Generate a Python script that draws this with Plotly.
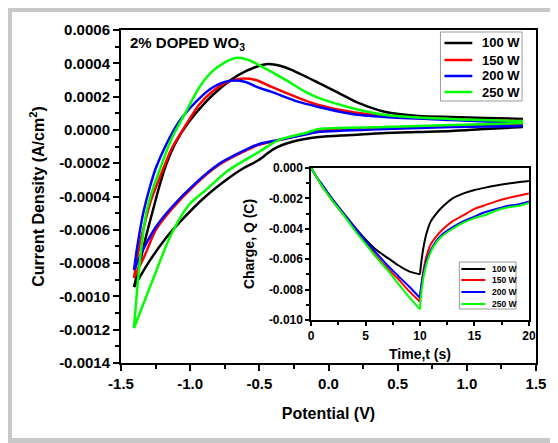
import plotly.graph_objects as go

powers = ['100 W', '150 W', '200 W', '250 W']
colors = ['#000000', '#ff0000', '#0000ff', '#00ff00']

# cyclic voltammetry, forward sweep (from -1.4 V vertex to +1.4 V)
v_up_100 = [-1.406, -1.356, -1.313, -1.262, -1.219, -1.175, -1.103, -1.010, -0.887, -0.772, -0.649, -0.526, -0.433, -0.35, -0.267, -0.072, 0.072, 0.216, 0.411, 0.649, 0.887, 1.132, 1.406]
j_up_100 = [-0.000944, -0.00077, -0.00062, -0.00046, -0.000328, -0.000211, -0.000073, 0.000047, 0.000168, 0.000258, 0.00033, 0.000378, 0.000396, 0.000385, 0.00036, 0.000282, 0.000222, 0.000162, 0.000108, 0.000084, 0.000078, 0.000072, 0.000066]
v_up_150 = [-1.406, -1.377, -1.334, -1.284, -1.204, -1.132, -1.031, -0.937, -0.844, -0.743, -0.649, -0.526, -0.411, -0.216, -0.072, 0.166, 0.411, 0.649, 1.01, 1.406]
j_up_150 = [-0.000889, -0.00074, -0.00058, -0.000425, -0.000253, -0.000109, 0.00003, 0.00015, 0.000228, 0.000282, 0.000306, 0.0003, 0.000258, 0.000192, 0.00015, 0.000108, 0.000084, 0.000072, 0.00006, 0.000053]
v_up_200 = [-1.406, -1.385, -1.36, -1.334, -1.29, -1.248, -1.175, -1.082, -0.959, -0.844, -0.721, -0.599, -0.519, -0.411, -0.216, -0.072, 0.166, 0.411, 0.887, 1.406]
j_up_200 = [-0.000841, -0.000715, -0.00059, -0.00048, -0.00034, -0.000229, -0.000091, 0.000047, 0.000168, 0.000252, 0.000294, 0.000288, 0.000258, 0.000228, 0.000168, 0.000138, 0.000096, 0.000078, 0.00006, 0.000041]
v_up_250 = [-1.406, -1.377, -1.349, -1.313, -1.27, -1.226, -1.132, -1.031, -0.937, -0.844, -0.743, -0.671, -0.577, -0.505, -0.310, -0.166, -0.072, 0.166, 0.411, 0.887, 1.406]
j_up_250 = [-0.00119, -0.000901, -0.00068, -0.00048, -0.000355, -0.000253, -0.000049, 0.000108, 0.000252, 0.000348, 0.000408, 0.000432, 0.00042, 0.00039, 0.0003, 0.000228, 0.000192, 0.000132, 0.00009, 0.000066, 0.000053]

# reverse sweep (from +1.4 V back to the vertex)
v_dn_100 = [1.406, 1.132, 0.887, 0.649, 0.411, 0.166, -0.072, -0.267, -0.397, -0.505, -0.613, -0.721, -0.901, -1.060, -1.175, -1.298, -1.406]
j_dn_100 = [0.000017, 0.000005, -0.000007, -0.000013, -0.000019, -0.000031, -0.000043, -0.000073, -0.000115, -0.000181, -0.000229, -0.000289, -0.000409, -0.000541, -0.000649, -0.000793, -0.000944]
v_dn_150 = [1.406, 0.887, 0.411, -0.072, -0.166, -0.361, -0.505, -0.649, -0.793, -0.959, -1.132, -1.248, -1.327, -1.406]
j_dn_150 = [0.000035, 0.000023, 0.000011, -0.000007, -0.000025, -0.000062, -0.00009, -0.000145, -0.000211, -0.000325, -0.000475, -0.000601, -0.000751, -0.000889]
v_dn_200 = [1.406, 0.887, 0.411, -0.072, -0.166, -0.361, -0.505, -0.649, -0.793, -0.959, -1.132, -1.248, -1.334, -1.406]
j_dn_200 = [0.000023, 0.000017, 0.000005, -0.000013, -0.000027, -0.00006, -0.000086, -0.00014, -0.000205, -0.000318, -0.000463, -0.000583, -0.000709, -0.000841]
v_dn_250 = [1.406, 0.887, 0.411, -0.072, -0.166, -0.361, -0.505, -0.721, -0.887, -1.010, -1.139, -1.276, -1.406]
j_dn_250 = [0.000041, 0.000029, 0.000017, 0.000005, -0.000019, -0.000061, -0.000133, -0.000241, -0.000361, -0.000451, -0.000631, -0.000913, -0.00119]

# chronocoulometry inset: charging (0-10 s) and recovery (10-20 s)
t_chg = [0, 0.5, 1, 1.5, 2, 3, 4, 5, 6, 7, 8, 9, 10]
q_chg_100 = [0, -0.0006, -0.0011, -0.0016, -0.0021, -0.0030, -0.0039, -0.0047, -0.0054, -0.0059, -0.0064, -0.0068, -0.0070]
q_chg_150 = [0, -0.0006, -0.0012, -0.0017, -0.0022, -0.0031, -0.0040, -0.0049, -0.0058, -0.0066, -0.0073, -0.0081, -0.0088]
q_chg_200 = [0, -0.0006, -0.0011, -0.0016, -0.0021, -0.0030, -0.0039, -0.0048, -0.0056, -0.0064, -0.0071, -0.0078, -0.00855]
q_chg_250 = [0, -0.0006, -0.0012, -0.0017, -0.0022, -0.0031, -0.0041, -0.0050, -0.0059, -0.0067, -0.0076, -0.0085, -0.0093]
t_rec = [10, 10.05, 10.3, 10.6, 11, 11.5, 12, 13, 14, 15, 16, 17, 18, 19, 20]
q_rec_100 = [-0.0070, -0.0066, -0.0053, -0.0043, -0.0035, -0.0030, -0.0026, -0.0020, -0.00168, -0.00146, -0.0013, -0.00116, -0.00104, -0.00094, -0.00086]
q_rec_150 = [-0.0088, -0.0082, -0.0068, -0.0058, -0.0050, -0.0045, -0.0041, -0.0035, -0.0031, -0.0027, -0.00245, -0.0022, -0.0020, -0.00183, -0.00168]
q_rec_200 = [-0.00855, -0.0081, -0.0070, -0.0061, -0.0054, -0.0048, -0.0044, -0.0039, -0.0035, -0.0032, -0.0029, -0.0027, -0.0025, -0.0024, -0.0022]
q_rec_250 = [-0.0093, -0.0087, -0.0073, -0.0063, -0.0055, -0.0049, -0.0045, -0.0040, -0.0036, -0.0033, -0.0031, -0.0028, -0.0026, -0.0025, -0.0023]

main_xticks = [-1.5, -1.0, -0.5, 0.0, 0.5, 1.0, 1.5]
main_yticks = [0.0006, 0.0004, 0.0002, 0.0, -0.0002, -0.0004, -0.0006, -0.0008, -0.0010, -0.0012, -0.0014]
inset_xticks = [0, 5, 10, 15, 20]
inset_yticks = [0.0, -0.002, -0.004, -0.006, -0.008, -0.010]

cv_up = [(v_up_100, j_up_100), (v_up_150, j_up_150), (v_up_200, j_up_200), (v_up_250, j_up_250)]
cv_dn = [(v_dn_100, j_dn_100), (v_dn_150, j_dn_150), (v_dn_200, j_dn_200), (v_dn_250, j_dn_250)]
q_chg = [q_chg_100, q_chg_150, q_chg_200, q_chg_250]
q_rec = [q_rec_100, q_rec_150, q_rec_200, q_rec_250]

FONT = 'Arial, Liberation Sans, sans-serif'
fig = go.Figure()

for i, name in enumerate(powers):
    line = dict(color=colors[i], width=2.5, shape='spline', smoothing=0.8)
    fig.add_trace(go.Scatter(x=cv_up[i][0], y=cv_up[i][1], mode='lines', line=line, name=name))
    fig.add_trace(go.Scatter(x=cv_dn[i][0], y=cv_dn[i][1], mode='lines', line=line, name=name))

for i, name in enumerate(powers):
    line = dict(color=colors[i], width=2, shape='spline', smoothing=0.6)
    fig.add_trace(go.Scatter(x=t_chg, y=q_chg[i], mode='lines', line=line, name=name, xaxis='x2', yaxis='y2'))
    fig.add_trace(go.Scatter(x=t_rec, y=q_rec[i], mode='lines', line=line, name=name, xaxis='x2', yaxis='y2'))

# legend boxes drawn by hand: plotly's legend rows are too tall for the reference spacing
shapes = [
    # grey frame round the whole picture
    dict(type='rect', xref='paper', yref='paper', x0=-0.2686, x1=1.042, y0=-0.2327, y1=1.0616,
         line=dict(color='#c8c8c8', width=5)),
    dict(type='rect', xref='paper', yref='paper', x0=0.7698, x1=0.9664, y0=0.7868, y1=0.994,
         line=dict(color='#9a9a9a', width=1), fillcolor='white'),
    dict(type='rect', xref='paper', yref='paper', x0=0.8153, x1=0.952, y0=0.1622, y1=0.3033,
         line=dict(color='#9a9a9a', width=1), fillcolor='white'),
]
annotations = [dict(x=0.017, y=0.994, xref='paper', yref='paper', xanchor='left', yanchor='top',
                    text='2% DOPED WO<sub>3</sub>', showarrow=False, font=dict(size=15, weight='bold'))]

main_rows = [0.961, 0.9099, 0.8619, 0.8138]
inset_rows = [0.2823, 0.2492, 0.2132, 0.1772]
for i, name in enumerate(powers):
    shapes.append(dict(type='line', xref='paper', yref='paper', x0=0.7794, x1=0.8465, y0=main_rows[i], y1=main_rows[i],
                       line=dict(color=colors[i], width=2.5)))
    annotations.append(dict(x=0.8657, y=main_rows[i], xref='paper', yref='paper', xanchor='left', yanchor='middle',
                            text=name, showarrow=False, font=dict(size=13, weight='bold')))
    shapes.append(dict(type='line', xref='paper', yref='paper', x0=0.8201, x1=0.8777, y0=inset_rows[i], y1=inset_rows[i],
                       line=dict(color=colors[i], width=2)))
    annotations.append(dict(x=0.8897, y=inset_rows[i], xref='paper', yref='paper', xanchor='left', yanchor='middle',
                            text=name, showarrow=False, font=dict(size=8.5, weight='bold')))

axis_common = dict(showline=True, linecolor='black', mirror=True, ticks='outside', tickcolor='black',
                   showgrid=False, zeroline=False)

fig.update_layout(
    width=550, height=435,
    margin=dict(l=113, r=20, t=22, b=80),
    paper_bgcolor='white', plot_bgcolor='white', showlegend=False,
    font=dict(family=FONT, color='black'),
    xaxis=dict(**axis_common, range=[-1.5, 1.5], linewidth=2, ticklen=6, tickwidth=2,
               tickmode='array', tickvals=main_xticks, ticktext=[f'{v:.1f}' for v in main_xticks],
               tickfont=dict(size=15, weight='bold'),
               minor=dict(ticks='outside', dtick=0.25, tick0=-1.5, ticklen=4, tickwidth=2, tickcolor='black'),
               title=dict(text='Potential (V)', font=dict(size=16, weight='bold'), standoff=17)),
    yaxis=dict(**axis_common, range=[-0.0014, 0.0006], linewidth=2, ticklen=6, tickwidth=2,
               tickmode='array', tickvals=main_yticks, ticktext=[f'{v:.4f}' for v in main_yticks],
               tickfont=dict(size=15, weight='bold'),
               minor=dict(ticks='outside', dtick=0.0001, tick0=0, ticklen=4, tickwidth=2, tickcolor='black'),
               title=dict(text='Current Density (A/cm<sup>2</sup>)', font=dict(size=16, weight='bold'), standoff=11)),
    xaxis2=dict(**axis_common, domain=[0.458, 0.983], anchor='y2', range=[0, 20], linewidth=1.5,
                ticklen=4, tickwidth=1.5, tickmode='array', tickvals=inset_xticks,
                ticktext=[str(v) for v in inset_xticks], tickfont=dict(size=12, weight='bold'),
                minor=dict(ticks='outside', dtick=2.5, tick0=0, ticklen=3, tickwidth=1.5, tickcolor='black'),
                title=dict(text='Time,t (s)', font=dict(size=14, weight='bold'), standoff=7)),
    yaxis2=dict(**axis_common, domain=[0.129, 0.586], anchor='x2', range=[-0.010, 0.0], linewidth=1.5,
                ticklen=4, tickwidth=1.5, tickmode='array', tickvals=inset_yticks,
                ticktext=[f'{v:.3f}' for v in inset_yticks], tickfont=dict(size=12, weight='bold'),
                minor=dict(ticks='outside', dtick=0.001, tick0=0, ticklen=3, tickwidth=1.5, tickcolor='black'),
                title=dict(text='Charge, Q (C)', font=dict(size=14, weight='bold'), standoff=11)),
    annotations=annotations,
    shapes=shapes,
)

fig.write_html('out.html')
